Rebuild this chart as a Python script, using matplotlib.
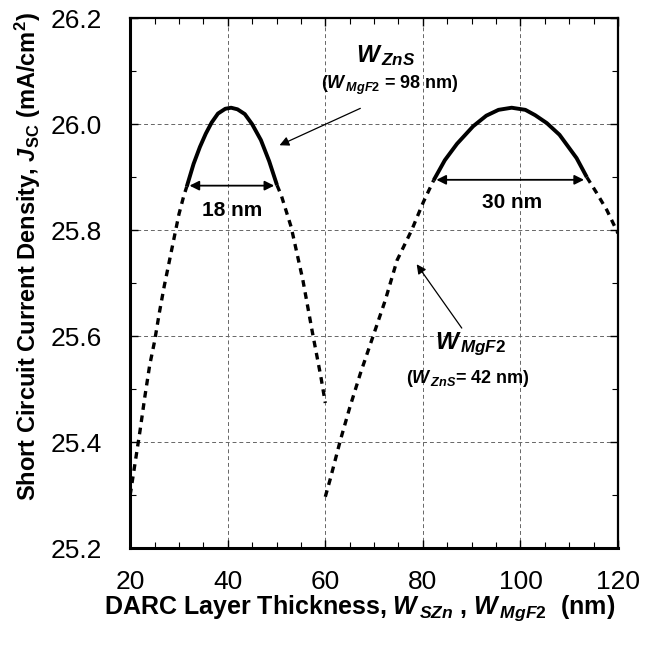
import matplotlib
matplotlib.use('Agg')
import matplotlib.pyplot as plt
from matplotlib.ticker import MultipleLocator, FormatStrFormatter

plt.rcParams['font.family'] = 'Liberation Sans'
plt.rcParams['mathtext.fontset'] = 'custom'
plt.rcParams['mathtext.it'] = 'Liberation Sans:italic:bold'
plt.rcParams['mathtext.bf'] = 'Liberation Sans:bold'
plt.rcParams['mathtext.rm'] = 'Liberation Sans:bold'

# W_ZnS sweep (W_MgF2 = 98 nm)
zns_x_low = [20, 21, 22, 23, 24, 25, 26, 27, 28, 29, 30, 31, 31.6]
zns_y_low = [25.30, 25.36, 25.42, 25.485, 25.545, 25.59, 25.645, 25.695, 25.74, 25.785, 25.83, 25.865, 25.882]
zns_x_top = [31.6, 33, 34.3, 35.5, 36.7, 38, 39.5, 40.7, 42, 43.5, 45, 46.8, 48.5, 50.1]
zns_y_top = [25.882, 25.925, 25.957, 25.982, 26.003, 26.02, 26.029, 26.031, 26.028, 26.019, 26.0, 25.97, 25.93, 25.885]
zns_x_high = [50.1, 51, 53, 55.4, 57.4, 59.1, 60]
zns_y_high = [25.885, 25.865, 25.806, 25.706, 25.605, 25.523, 25.474]

# W_MgF2 sweep (W_ZnS = 42 nm)
mgf_x_low = [60, 61, 63.1, 65, 67.2, 70.2, 72.3, 74.7, 77.7, 80.1, 82.2]
mgf_y_low = [25.297, 25.33, 25.404, 25.465, 25.53, 25.611, 25.668, 25.743, 25.80, 25.853, 25.894]
mgf_x_top = [82.2, 84.5, 87, 90.3, 93, 95.5, 98.2, 101, 103, 105.4, 108, 111.5, 113.6]
mgf_y_top = [25.894, 25.932, 25.963, 25.996, 26.016, 26.027, 26.031, 26.027, 26.017, 26.002, 25.98, 25.936, 25.90]
mgf_x_high = [113.6, 115.5, 117.7, 120]
mgf_y_high = [25.90, 25.872, 25.838, 25.794]

fig = plt.figure(figsize=(6.54, 6.48), dpi=100)
ax = fig.add_axes([0.199, 0.154, 0.746, 0.818])

dash = (0, (2.0, 1.7))
for xs, ys in [(zns_x_low, zns_y_low), (zns_x_high, zns_y_high),
               (mgf_x_low, mgf_y_low), (mgf_x_high, mgf_y_high)]:
    ax.plot(xs, ys, color='black', lw=2.4, linestyle=dash)
for xs, ys in [(zns_x_top, zns_y_top), (mgf_x_top, mgf_y_top)]:
    ax.plot(xs, ys, color='black', lw=2.8, solid_capstyle='butt')

# width arrows
ax.annotate('', xy=(zns_x_top[0], 25.884), xytext=(zns_x_top[-1], 25.884),
            arrowprops=dict(arrowstyle='<|-|>', color='black', lw=1.3, mutation_scale=14))
ax.annotate('', xy=(mgf_x_top[0], 25.895), xytext=(mgf_x_top[-1], 25.895),
            arrowprops=dict(arrowstyle='<|-|>', color='black', lw=1.3, mutation_scale=14))
ax.text(41, 25.837, '18 nm', ha='center', va='center', fontsize=15, fontweight='bold')
ax.text(98.3, 25.853, '30 nm', ha='center', va='center', fontsize=15, fontweight='bold')

# labels with pointers
ax.text(72.3, 26.13, r'$\mathit{W}_{\,\mathit{ZnS}}$', ha='center', va='center', fontsize=17.5)
ax.text(73.3, 26.074, r'($\mathit{W}_{\,\mathit{MgF2}}$ = 98 nm)', ha='center', va='center',
        fontsize=13, fontweight='bold')
ax.annotate('', xy=(50.1, 25.958), xytext=(67.7, 26.032),
            arrowprops=dict(arrowstyle='-|>', color='black', lw=0.9, mutation_scale=14))

ax.text(89.7, 25.585, r'$\mathit{W}_{\,\mathit{MgF2}}$', ha='center', va='center', fontsize=17.5)
ax.text(89.3, 25.52, r'($\mathit{W}_{\,\mathit{ZnS}}$= 42 nm)', ha='center', va='center',
        fontsize=13, fontweight='bold')
ax.annotate('', xy=(78.4, 25.74), xytext=(88.3, 25.611),
            arrowprops=dict(arrowstyle='-|>', color='black', lw=0.9, mutation_scale=14))

ax.set_xlim(20, 120)
ax.set_ylim(25.2, 26.2)
ax.xaxis.set_major_locator(MultipleLocator(20))
ax.xaxis.set_minor_locator(MultipleLocator(5))
ax.yaxis.set_major_locator(MultipleLocator(0.2))
ax.yaxis.set_minor_locator(MultipleLocator(0.1))
ax.yaxis.set_major_formatter(FormatStrFormatter('%.1f'))
ax.tick_params(which='both', direction='in', top=True, right=True, labelsize=19)
ax.tick_params(axis='x', which='major', pad=16)
ax.tick_params(axis='y', which='major', pad=20)
ax.tick_params(which='major', length=6, width=1)
ax.tick_params(which='minor', length=4, width=0.8)
ax.grid(True, which='major', color='0.4', linestyle=(0, (4, 3)), lw=0.7)

for side in ['left', 'bottom']:
    ax.spines[side].set_linewidth(2.2)
for side in ['top', 'right']:
    ax.spines[side].set_linewidth(1.6)

ax.set_xlabel(r'DARC Layer Thickness, $\mathit{W}_{\,\mathit{SZn}}$ , $\mathit{W}_{\,\mathit{MgF2}}$  (nm)',
              fontsize=18, fontweight='bold')
ax.set_ylabel(r'Short Circuit Current Density, $\mathit{J}_{\mathbf{SC}}$ (mA/cm$^{\mathbf{2}}$)',
              fontsize=17, fontweight='bold')
ax.xaxis.set_label_coords(0.471, -0.085)
ax.yaxis.set_label_coords(-0.209, 0.551)
ax.yaxis.label.set_va('center')

fig.savefig('out.png', dpi=100)
